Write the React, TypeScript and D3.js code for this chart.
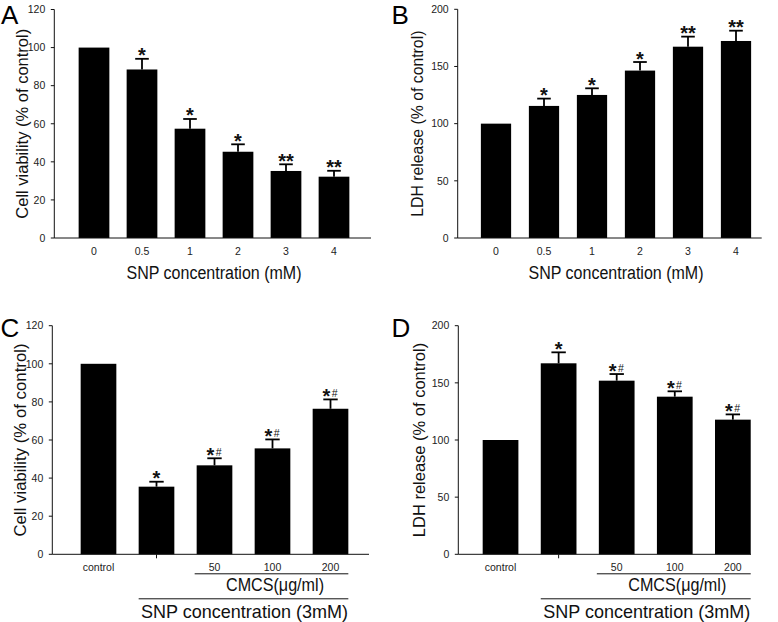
import React from "react";
import * as d3 from "d3";

// ---------- Data ----------
const concCategories = ["0", "0.5", "1", "2", "3", "4"];
const viabilityA = [100, 88.5, 57.4, 45.3, 35.2, 32.2];
const viabilityAErr = [0, 5.6, 5.1, 3.9, 3.5, 3.1];
const viabilityAMarks = ["", "*", "*", "*", "**", "**"];

const ldhB = [100, 115.5, 125.1, 146.4, 167.3, 172.3];
const ldhBErr = [0, 6.4, 5.8, 7.5, 8.8, 9.0];
const ldhBMarks = ["", "*", "*", "*", "**", "**"];

const treatCategories = ["control", "", "50", "100", "200"];
const viabilityC = [100, 35.5, 46.7, 55.6, 76.4];
const viabilityCErr = [0, 2.6, 3.7, 4.7, 4.9];
const viabilityCMarks = ["", "*", "*#", "*#", "*#"];

const ldhD = [100, 167.1, 151.9, 137.9, 117.8];
const ldhDErr = [0, 9.6, 5.8, 4.7, 4.6];
const ldhDMarks = ["", "*", "*#", "*#", "*#"];

const ticks120 = [0, 20, 40, 60, 80, 100, 120];
const ticks200 = [0, 50, 100, 150, 200];

const FONT = "'Liberation Sans', Arial, Helvetica, sans-serif";

type PanelProps = {
  letter: string;
  letterX: number;
  letterY: number;
  cats: string[];
  values: number[];
  errs: number[];
  marks: string[];
  yMax: number;
  yTicks: number[];
  yTitle: string;
  yTitleX: number;
  yTitleSize: number;
  axisX0: number;
  axisX1: number;
  yTop: number;
  yBottom: number;
  bandRange: [number, number];
  padInner: number;
  capHalf: number;
  xTitle?: string;
  xTitleY?: number;
  bracket?: boolean;
};

function Mark({ x, y, text }: { x: number; y: number; text: string }) {
  // y is the top of the error bar cap
  const base = y + 4.5;
  const common = { fontSize: 20, fontWeight: "bold" as const, fontFamily: FONT, fill: "#111" };
  if (text === "*") {
    return (
      <text x={x} y={base} textAnchor="middle" {...common}>
        *
      </text>
    );
  }
  if (text === "**") {
    return (
      <g>
        <text x={x - 3.8} y={base} textAnchor="middle" {...common}>
          *
        </text>
        <text x={x + 3.8} y={base} textAnchor="middle" {...common}>
          *
        </text>
      </g>
    );
  }
  // "*#"
  return (
    <g>
      <text x={x - 4} y={base} textAnchor="middle" {...common}>
        *
      </text>
      <text x={x + 4.2} y={base - 5.8} textAnchor="middle" fontSize={10.5} fontFamily={FONT} fill="#111">
        #
      </text>
    </g>
  );
}

function Panel(p: PanelProps) {
  const x = d3
    .scaleBand<string>()
    .domain(p.cats.map((c, i) => String(i)))
    .range(p.bandRange)
    .paddingInner(p.padInner)
    .paddingOuter(p.padInner / 2);
  const y = d3.scaleLinear().domain([0, p.yMax]).range([p.yBottom, p.yTop]);
  const bw = x.bandwidth();
  const cx = (i: number) => (x(String(i)) as number) + bw / 2;
  const last = String(p.cats.length - 1);
  const bandsCenter = ((x("0") as number) + (x(last) as number) + bw) / 2;

  return (
    <g>
      <text x={p.letterX} y={p.letterY} fontSize={26} fontFamily={FONT} fill="#000">
        {p.letter}
      </text>
      {/* bars */}
      {p.values.map((v, i) => (
        <rect key={"b" + i} x={x(String(i))} y={y(v)} width={bw} height={y(0) - y(v)} fill="#000" />
      ))}
      {/* error bars */}
      {p.values.map((v, i) =>
        p.errs[i] > 0 ? (
          <g key={"e" + i} stroke="#000" strokeWidth={1.8}>
            <line x1={cx(i)} x2={cx(i)} y1={y(v)} y2={y(v + p.errs[i])} />
            <line x1={cx(i) - p.capHalf} x2={cx(i) + p.capHalf} y1={y(v + p.errs[i])} y2={y(v + p.errs[i])} />
          </g>
        ) : null
      )}
      {/* significance marks */}
      {p.values.map((v, i) =>
        p.marks[i] ? <Mark key={"m" + i} x={cx(i)} y={y(v + p.errs[i]) - 1} text={p.marks[i]} /> : null
      )}
      {/* axes */}
      <line x1={p.axisX0} x2={p.axisX0} y1={p.yTop} y2={p.yBottom} stroke="#111" strokeWidth={1} />
      <line x1={p.axisX0} x2={p.axisX1} y1={p.yBottom} y2={p.yBottom} stroke="#111" strokeWidth={1} />
      {p.yTicks.map((t) => (
        <g key={"t" + t}>
          <line x1={p.axisX0 - 3.5} x2={p.axisX0} y1={y(t)} y2={y(t)} stroke="#111" strokeWidth={1} />
          <text
            x={p.axisX0 - 9}
            y={y(t)}
            dy="0.36em"
            textAnchor="end"
            fontSize={10.5}
            fontFamily={FONT}
            fill="#222"
          >
            {t}
          </text>
        </g>
      ))}
      {p.cats.map((c, i) =>
        c === "" ? (
          <line key={"xt" + i} x1={cx(i)} x2={cx(i)} y1={p.yBottom} y2={p.yBottom + 4} stroke="#111" strokeWidth={1} />
        ) : (
          <text key={"xl" + i} x={cx(i)} y={p.yBottom + 16.5} textAnchor="middle" fontSize={10.5} fontFamily={FONT} fill="#222">
            {c}
          </text>
        )
      )}
      {/* y title */}
      <text
        transform={`translate(${p.yTitleX},${(p.yTop + p.yBottom) / 2}) rotate(-90)`}
        textAnchor="middle"
        fontSize={p.yTitleSize}
        fontFamily={FONT}
        fill="#111"
      >
        {p.yTitle}
      </text>
      {p.xTitle && (
        <text
          x={bandsCenter}
          y={p.xTitleY}
          textAnchor="middle"
          fontSize={18}
          fontFamily={FONT}
          fill="#111"
          textLength={175}
          lengthAdjust="spacingAndGlyphs"
        >
          {p.xTitle}
        </text>
      )}
      {p.bracket && (
        <g>
          <line
            x1={(x("2") as number) - 2}
            x2={(x(last) as number) + bw}
            y1={p.yBottom + 19.5}
            y2={p.yBottom + 19.5}
            stroke="#111"
            strokeWidth={1}
          />
          <text
            x={((x("2") as number) + (x(last) as number) + bw) / 2 + 2.5}
            y={p.yBottom + 36.5}
            textAnchor="middle"
            fontSize={17.5}
            fontFamily={FONT}
            fill="#111"
            textLength={98}
            lengthAdjust="spacingAndGlyphs"
          >
            CMCS(μg/ml)
          </text>
          <line
            x1={x("1") as number}
            x2={(x(last) as number) + bw}
            y1={p.yBottom + 44.5}
            y2={p.yBottom + 44.5}
            stroke="#111"
            strokeWidth={1}
          />
          <text
            x={((x("1") as number) + (x(last) as number) + bw) / 2 + 1}
            y={p.yBottom + 63.5}
            textAnchor="middle"
            fontSize={19}
            fontFamily={FONT}
            fill="#111"
            textLength={207}
            lengthAdjust="spacingAndGlyphs"
          >
            SNP concentration (3mM)
          </text>
        </g>
      )}
    </g>
  );
}

export default function App() {
  return (
    <svg
      width={778}
      height={622}
      viewBox="0 0 778 622"
      style={{ position: "absolute", left: 0, top: 0, background: "#fff" }}
    >
      <rect x={0} y={0} width={778} height={622} fill="#fff" />
      <Panel
        letter="A"
        letterX={1}
        letterY={23.5}
        cats={concCategories}
        values={viabilityA}
        errs={viabilityAErr}
        marks={viabilityAMarks}
        yMax={120}
        yTicks={ticks120}
        yTitle="Cell viability (% of control)"
        yTitleX={27.5}
        yTitleSize={16.5}
        axisX0={54.3}
        axisX1={371}
        yTop={9.5}
        yBottom={238}
        bandRange={[70, 358]}
        padInner={0.36}
        capHalf={6.8}
        xTitle="SNP concentration (mM)"
        xTitleY={278.5}
      />
      <Panel
        letter="B"
        letterX={391.5}
        letterY={23.5}
        cats={concCategories}
        values={ldhB}
        errs={ldhBErr}
        marks={ldhBMarks}
        yMax={200}
        yTicks={ticks200}
        yTitle="LDH release (% of control)"
        yTitleX={423}
        yTitleSize={15.8}
        axisX0={457.7}
        axisX1={761.7}
        yTop={9.3}
        yBottom={238}
        bandRange={[472, 760]}
        padInner={0.37}
        capHalf={6.8}
        xTitle="SNP concentration (mM)"
        xTitleY={278.5}
      />
      <Panel
        letter="C"
        letterX={0.5}
        letterY={337}
        cats={treatCategories}
        values={viabilityC}
        errs={viabilityCErr}
        marks={viabilityCMarks}
        yMax={120}
        yTicks={ticks120}
        yTitle="Cell viability (% of control)"
        yTitleX={26}
        yTitleSize={16.8}
        axisX0={52.3}
        axisX1={369}
        yTop={325.7}
        yBottom={554.3}
        bandRange={[69.5, 359.5]}
        padInner={0.385}
        capHalf={7.2}
        bracket
      />
      <Panel
        letter="D"
        letterX={391.5}
        letterY={337}
        cats={treatCategories}
        values={ldhD}
        errs={ldhDErr}
        marks={ldhDMarks}
        yMax={200}
        yTicks={ticks200}
        yTitle="LDH release (% of control)"
        yTitleX={424.5}
        yTitleSize={16.5}
        axisX0={458.3}
        axisX1={751}
        yTop={325.7}
        yBottom={554.3}
        bandRange={[471.5, 761.9]}
        padInner={0.385}
        capHalf={7.2}
        bracket
      />
    </svg>
  );
}
